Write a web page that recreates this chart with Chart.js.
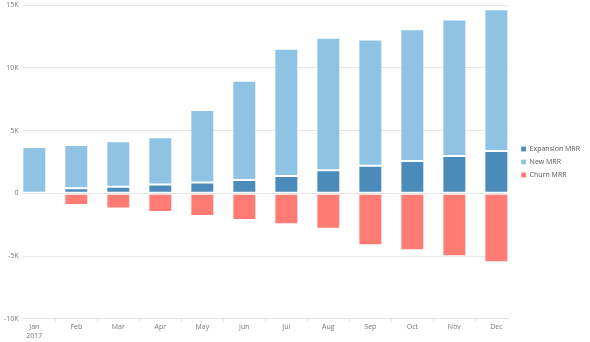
<!DOCTYPE html>
<html lang="en">
<head>
    <meta charset="UTF-8">
    <title>MRR Movements</title>
    <script src="https://cdn.jsdelivr.net/npm/chart.js"></script>
    <style>
        html, body { margin: 0; padding: 0; background: #fff; }
        #wrap { width: 590px; height: 342px; }
    </style>
</head>
<body>
    <div id="wrap"><canvas id="mrrChart" width="590" height="342"></canvas></div>

    <script>
        // Months on the x axis (first one carries the year)
        const months = ['Jan', 'Feb', 'Mar', 'Apr', 'May', 'Jun', 'Jul', 'Aug', 'Sep', 'Oct', 'Nov', 'Dec'];
        const yearLabel = '2017';

        // MRR components per month
        const expansionMRR = [0, 400, 530, 690, 850, 1060, 1380, 1830, 2200, 2570, 2970, 3370];
        const newMRR = [3690, 3450, 3610, 3770, 5780, 7900, 10130, 10560, 10060, 10490, 10880, 11300];
        const churnMRR = [0, -930, -1220, -1490, -1810, -2120, -2470, -2820, -4140, -4540, -5020, -5490];

        // Y axis ticks
        const yTicks = [-10000, -5000, 0, 5000, 10000, 15000];

        const FONT = '"Open Sans", sans-serif';
        const toPoints = arr => arr.map((v, i) => ({ x: i, y: v }));

        const barStyle = {
            borderWidth: 1,
            borderColor: 'rgba(255,255,255,0.2)',
            borderSkipped: false,
            categoryPercentage: 1,
            barPercentage: 0.57
        };

        new Chart(document.getElementById('mrrChart'), {
            type: 'bar',
            data: {
                datasets: [
                    { label: 'Expansion MRR', data: toPoints(expansionMRR), backgroundColor: '#4a8bb9', ...barStyle },
                    { label: 'New MRR', data: toPoints(newMRR), backgroundColor: '#8fc3e4', ...barStyle },
                    { label: 'Churn MRR', data: toPoints(churnMRR), backgroundColor: '#ff7b73', ...barStyle }
                ]
            },
            options: {
                responsive: false,
                animation: false,
                layout: { padding: { left: 0, right: 0, top: 5, bottom: 0 } },
                scales: {
                    x: {
                        type: 'linear',
                        stacked: true,
                        offset: false,
                        min: -0.28,
                        max: 11.28,
                        border: { display: true, color: '#e0e0e0' },
                        grid: { drawOnChartArea: false, drawTicks: true, tickLength: 3, color: '#e0e0e0' },
                        ticks: {
                            stepSize: 1,
                            includeBounds: false,
                            autoSkip: false,
                            maxRotation: 0,
                            padding: 1,
                            color: '#777',
                            font: { family: FONT, size: 7, lineHeight: 1.3 },
                            callback: function (value) {
                                if (!Number.isInteger(value) || value < 0 || value >= months.length) return null;
                                return value === 0 ? [months[0], yearLabel] : months[value];
                            }
                        }
                    },
                    y: {
                        stacked: true,
                        min: yTicks[0],
                        max: yTicks[yTicks.length - 1],
                        afterBuildTicks: function (axis) {
                            axis.ticks = yTicks.map(v => ({ value: v }));
                        },
                        afterFit: function (axis) { axis.paddingTop = 0; },
                        border: { display: false },
                        grid: { color: '#e6e6e6', drawTicks: false, lineWidth: 1 },
                        ticks: {
                            padding: 4,
                            color: '#777',
                            font: { family: FONT, size: 7 },
                            callback: function (value) {
                                return value === 0 ? '0' : (value / 1000) + 'K';
                            }
                        }
                    },
                    // empty axis used as a gap between plot and legend
                    gap: {
                        type: 'linear',
                        position: 'right',
                        display: true,
                        grid: { display: false },
                        border: { display: false },
                        ticks: { display: false },
                        afterFit: function (axis) { axis.width = 7; }
                    }
                },
                plugins: {
                    legend: {
                        position: 'right',
                        fullSize: false,
                        labels: {
                            boxWidth: 5,
                            boxHeight: 5,
                            padding: 6,
                            color: '#555',
                            font: { family: FONT, size: 7 }
                        }
                    },
                    tooltip: { enabled: false }
                }
            }
        });
    </script>
</body>
</html>
